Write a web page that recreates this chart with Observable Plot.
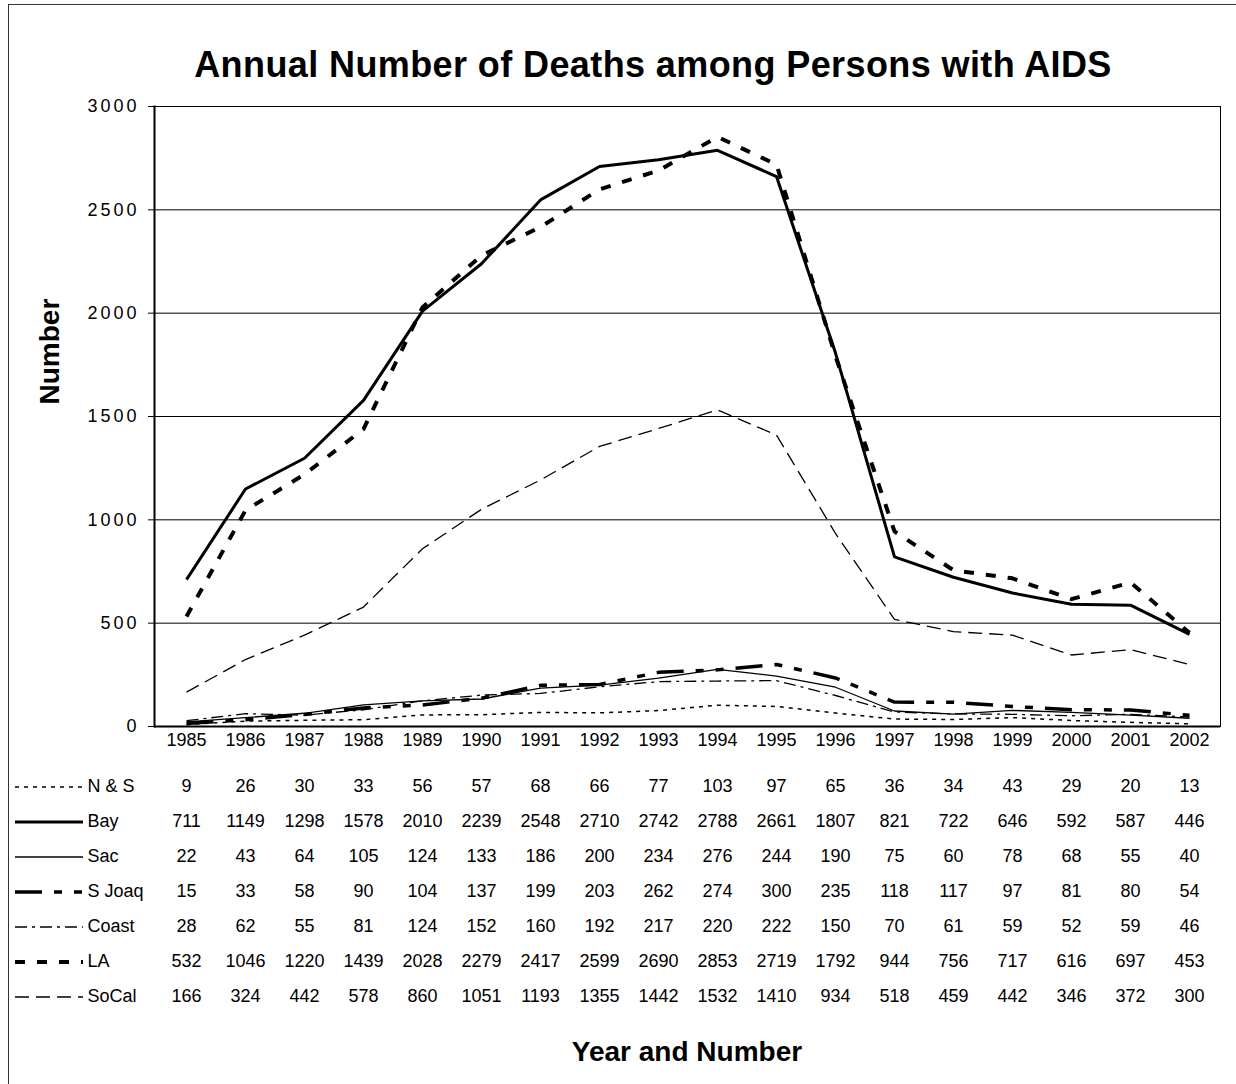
<!DOCTYPE html>
<html><head><meta charset="utf-8">
<script src="https://cdn.jsdelivr.net/npm/d3@7"></script>
<script src="https://cdn.jsdelivr.net/npm/@observablehq/plot@0.6"></script>
<style>
html,body{margin:0;padding:0;background:#fff;overflow:hidden}
#wrap{position:relative;width:1236px;height:1084px;font-family:"Liberation Sans",Arial,sans-serif;color:#000}
#frame{position:absolute;left:8px;top:4px;width:1400px;height:1200px;border-left:1px solid #333;border-top:1px solid #333;pointer-events:none}
#title{height:80px;box-sizing:border-box;padding-top:47px;padding-left:70px;text-align:center;font-size:36px;line-height:36px;font-weight:bold;letter-spacing:0.4px;white-space:nowrap}
#xlabel{padding-top:8px;padding-left:154px;padding-right:16px;text-align:center;font-size:28px;line-height:28px;font-weight:bold}
svg{display:block}
#chart g[aria-label="y-axis tick label"] text{letter-spacing:3px}
</style></head>
<body><div id="wrap"><div id="frame"></div>
<div id="title">Annual Number of Deaths among Persons with AIDS</div>
<div id="chart"></div><div id="table"></div>
<div id="xlabel">Year and Number</div></div>
<script>
const years = ["1985","1986","1987","1988","1989","1990","1991","1992","1993","1994","1995","1996","1997","1998","1999","2000","2001","2002"];
const yTicks = [0, 500, 1000, 1500, 2000, 2500, 3000];
const seriesNames = ["N & S", "Bay", "Sac", "S Joaq", "Coast", "LA", "SoCal"];
const nAndS = [9,26,30,33,56,57,68,66,77,103,97,65,36,34,43,29,20,13];
const bay   = [711,1149,1298,1578,2010,2239,2548,2710,2742,2788,2661,1807,821,722,646,592,587,446];
const sac   = [22,43,64,105,124,133,186,200,234,276,244,190,75,60,78,68,55,40];
const sJoaq = [15,33,58,90,104,137,199,203,262,274,300,235,118,117,97,81,80,54];
const coast = [28,62,55,81,124,152,160,192,217,220,222,150,70,61,59,52,59,46];
const la    = [532,1046,1220,1439,2028,2279,2417,2599,2690,2853,2719,1792,944,756,717,616,697,453];
const soCal = [166,324,442,578,860,1051,1193,1355,1442,1532,1410,934,518,459,442,346,372,300];
const seriesValues = [nAndS, bay, sac, sJoaq, coast, la, soCal];

const styles = {
  "N & S":  {width: 1.5, dash: "4,5"},
  "Bay":    {width: 3,   dash: null},
  "Sac":    {width: 1.3, dash: null},
  "S Joaq": {width: 3.5, dash: "27,12,8,12,8,12"},
  "Coast":  {width: 1.3, dash: "12,5,3,5"},
  "LA":     {width: 4,   dash: "10,12"},
  "SoCal":  {width: 1.3, dash: "14,7"}
};

const rows = seriesNames.flatMap((name, s) => years.map((year, i) => ({name, year, value: seriesValues[s][i]})));

const font = {fontFamily: '"Liberation Sans", Arial, sans-serif', fontSize: "18px", color: "#000", background: "transparent", overflow: "visible"};
const xScale = {type: "point", domain: years, padding: 0.5, align: 0.5, axis: null};

const lineMarks = seriesNames.map(name => Plot.line(rows.filter(d => d.name === name), {
  x: "year", y: "value", stroke: "#000",
  strokeWidth: styles[name].width,
  strokeDasharray: styles[name].dash || undefined,
  strokeLinejoin: "round", strokeLinecap: "butt"
}));

const chart = Plot.plot({
  width: 1236, height: 680,
  marginTop: 26, marginBottom: 34, marginLeft: 154, marginRight: 16,
  style: font,
  x: xScale,
  y: {domain: [0, 3000], axis: null},
  marks: [
    Plot.ruleY(yTicks.filter(v => v > 0), {stroke: "#000", strokeWidth: 1}),
    Plot.frame({stroke: "#000", strokeWidth: 1}),
    ...lineMarks,
    Plot.ruleY([0], {stroke: "#000", strokeWidth: 2}),
    Plot.frame({anchor: "left", stroke: "#000", strokeWidth: 2}),
    Plot.axisY(yTicks, {tickSize: 6, tickPadding: 9, fontSize: 18, label: null, stroke: "#000", tickFormat: d => String(d)}),
    Plot.axisX({tickSize: 0, tickPadding: 7, fontSize: 18, label: null}),
    Plot.text(["Number"], {text: d => d, frameAnchor: "left", rotate: -90, dx: -104, dy: -12, fontSize: 28, fontWeight: "bold"})
  ]
});
document.getElementById("chart").appendChild(chart);

function swatchMark(index, scales) {
  const g = d3.create("svg:g");
  seriesNames.forEach(name => {
    const st = styles[name];
    const y = scales.y(name) + 1;
    g.append("line").attr("x1", 15).attr("x2", 83).attr("y1", y).attr("y2", y)
      .attr("stroke", "#000").attr("stroke-width", st.width)
      .attr("stroke-dasharray", st.dash);
  });
  return g.node();
}

const table = Plot.plot({
  width: 1236, height: 270,
  marginTop: 24, marginBottom: 32, marginLeft: 154, marginRight: 16,
  style: font,
  x: xScale,
  y: {type: "point", domain: seriesNames, padding: 0, axis: null},
  marks: [
    Plot.text(rows, {x: "year", y: "name", text: d => String(d.value), fontSize: 18}),
    Plot.text(seriesNames, {y: d => d, text: d => d, frameAnchor: "left", dx: -67, textAnchor: "start", fontSize: 18}),
    swatchMark
  ]
});
document.getElementById("table").appendChild(table);
</script>
</body></html>
